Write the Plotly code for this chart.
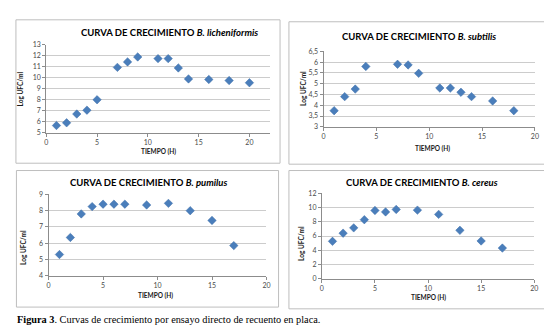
import plotly.graph_objects as go

W, H = 552, 325

# ---- data ----
lich_t = [1, 2, 3, 4, 5, 7, 8, 9, 11, 12, 13, 14, 16, 18, 20]
lich_v = [5.65, 5.9, 6.7, 7.05, 8.0, 10.95, 11.45, 11.9, 11.75, 11.75, 10.9, 9.9, 9.85, 9.75, 9.55]

subt_t = [1, 2, 3, 4, 7, 8, 9, 11, 12, 13, 14, 16, 18]
subt_v = [3.75, 4.4, 4.75, 5.8, 5.9, 5.87, 5.48, 4.8, 4.8, 4.6, 4.4, 4.2, 3.75]

pumi_t = [1, 2, 3, 4, 5, 6, 7, 9, 11, 13, 15, 17]
pumi_v = [5.3, 6.35, 7.8, 8.25, 8.4, 8.4, 8.4, 8.35, 8.45, 8.0, 7.4, 5.85]

cere_t = [1, 2, 3, 4, 5, 6, 7, 9, 11, 13, 15, 17]
cere_v = [5.25, 6.4, 7.15, 8.3, 9.6, 9.4, 9.75, 9.65, 9.05, 6.8, 5.3, 4.3]

species = ["B. licheniformis", "B. subtilis", "B. pumilus", "B. cereus"]
x_ranges = [[0, 22], [0, 20], [0, 20], [0, 20]]
y_ranges = [[5, 13], [3, 6.5], [4, 9], [0, 12]]
y_dticks = [1, 0.5, 1, 2]
x_ticks = [0, 5, 10, 15, 20]

title_prefix = "CURVA DE CRECIMIENTO "
x_title = "TIEMPO (H)"
y_title = "Log UFC/ml"
caption_bold = "Figura 3"
caption_rest = ". Curvas de crecimiento por ensayo directo de recuento en placa."

series = [(lich_t, lich_v), (subt_t, subt_v), (pumi_t, pumi_v), (cere_t, cere_v)]

# ---- layout geometry (pixels) ----
def px(x):
    return x / W

def py(y):
    return 1 - y / H

plot_px = [  # left, right, top, bottom
    (36.7, 262.6, 32.7, 122.7),
    (317.0, 530.7, 39.3, 116.7),
    (39.0, 259.3, 186.0, 269.3),
    (315.3, 530.0, 185.0, 272.3),
]
box_px = [
    (6, 273, 7, 154),
    (282, 542.5, 9, 155),
    (6.5, 271.5, 161.5, 301.5),
    (282, 540.5, 161.5, 303.3),
]
title_pos = [(161.7, 20), (413.5, 24), (140, 174), (416.5, 174)]
xtitle_pos = [(150, 141.7), (427, 138.7), (147, 289.3), (422.7, 291.7)]
ytitle_pos = [(10.5, 78), (296, 77), (13, 240), (294, 236)]

MARK = "#4A7EBB"
fig = go.Figure()
shapes = []
annotations = []
layout = {}

for i, (t, v) in enumerate(series):
    n = i + 1
    xa = "x" if n == 1 else f"x{n}"
    ya = "y" if n == 1 else f"y{n}"
    fig.add_trace(go.Scatter(
        x=t, y=v, mode="markers", xaxis=xa, yaxis=ya,
        marker=dict(symbol="diamond", size=6.5, color=MARK,
                    line=dict(width=0.5, color="#3F6FA8")),
        showlegend=False, hoverinfo="x+y",
    ))
    l, r, tp, b = plot_px[i]
    xkey = "xaxis" if n == 1 else f"xaxis{n}"
    ykey = "yaxis" if n == 1 else f"yaxis{n}"
    layout[xkey] = dict(
        domain=[px(l), px(r)], anchor=ya, range=x_ranges[i],
        tickvals=x_ticks, showgrid=False, zeroline=False,
        showline=True, linecolor="#8C8C8C", linewidth=1,
        ticks="outside", ticklen=3, tickcolor="#8C8C8C",
        tickfont=dict(family="Lato", size=7, color="#4a4a4a"),
        fixedrange=True,
    )
    layout[ykey] = dict(
        domain=[py(b), py(tp)], anchor=xa, range=y_ranges[i],
        dtick=y_dticks[i], tick0=y_ranges[i][0],
        showgrid=True, gridcolor="#CCCCCC", gridwidth=1, zeroline=False,
        showline=True, linecolor="#8C8C8C", linewidth=1,
        ticks="outside", ticklen=3, tickcolor="#8C8C8C",
        tickfont=dict(family="Lato", size=7, color="#4a4a4a"),
        fixedrange=True,
    )
    bl, br, bt, bb = box_px[i]
    shapes.append(dict(type="rect", xref="paper", yref="paper",
                       x0=px(bl), x1=px(br), y0=py(bb), y1=py(bt),
                       line=dict(color="#BEBEBE", width=1), layer="below"))
    tx, ty = title_pos[i]
    annotations.append(dict(
        x=px(tx), y=py(ty), xref="paper", yref="paper", showarrow=False,
        text=f"<b>{title_prefix}<i>{species[i]}</i></b>",
        font=dict(family="Lato", size=9.5, color="#000000"),
        xanchor="center", yanchor="middle"))
    xx, xy = xtitle_pos[i]
    annotations.append(dict(
        x=px(xx), y=py(xy), xref="paper", yref="paper", showarrow=False,
        text=f"<b>{x_title}</b>", font=dict(family="Lato", size=6.5, color="#1a1a1a"),
        xanchor="center", yanchor="middle"))
    yx, yy = ytitle_pos[i]
    annotations.append(dict(
        x=px(yx), y=py(yy), xref="paper", yref="paper", showarrow=False,
        text=f"<b>{y_title}</b>", textangle=-90,
        font=dict(family="Lato", size=6.5, color="#1a1a1a"),
        xanchor="center", yanchor="middle"))

annotations.append(dict(
    x=px(5), y=py(314.5), xref="paper", yref="paper", showarrow=False,
    text=f"<b>{caption_bold}</b>{caption_rest}",
    font=dict(family="Liberation Serif", size=10.3, color="#000000"),
    xanchor="left", yanchor="middle"))

fig.update_layout(
    width=W, height=H, margin=dict(l=0, r=0, t=0, b=0),
    paper_bgcolor="white", plot_bgcolor="white",
    separators=",.", shapes=shapes, annotations=annotations,
    **layout,
)

fig.write_html("out.html", config={"displayModeBar": False})
